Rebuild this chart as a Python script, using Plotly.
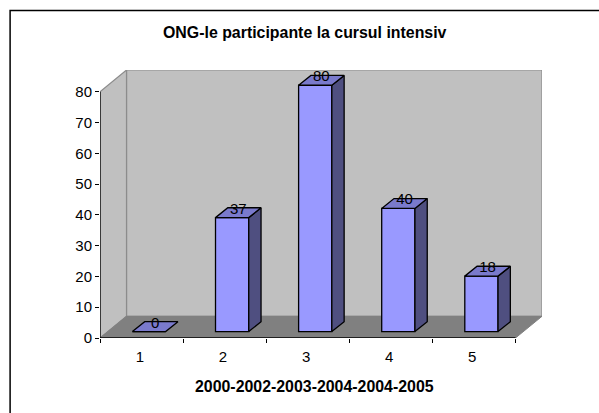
import plotly.graph_objects as go

categories = ["1", "2", "3", "4", "5"]
values = [0, 37, 80, 40, 18]
y_ticks = [0, 10, 20, 30, 40, 50, 60, 70, 80]
title_text = "ONG-le participante la cursul intensiv"
x_title = "2000-2002-2003-2004-2004-2005"

W, H = 599, 413
L, R, T, B = 99.5, 542.0, 70.0, 338.3     # pixel box incl. depth
N = len(categories)
YMAX = 80
DX = 0.319   # wall depth in category units
DY = 7.05    # wall depth in value units
BAR_W = 0.40
BAR_DX = 0.148
BAR_DY = 3.2
OFF_X = 0.09
OFF_Y = 2.1
FACE = "#9999FF"
TOPC = "#7A7ACC"
SIDE = "#4F4F80"
GREY = "#C0C0C0"
FLOOR = "#808080"
FONT = "Liberation Sans"

fig = go.Figure()

def path(xs, ys):
    return "M " + " L ".join(f"{x},{y}" for x, y in zip(xs, ys)) + " Z"

def wall(xs, ys, fill, line, width=1.0):
    fig.add_shape(type="path", xref="x", yref="y", path=path(xs, ys), fillcolor=fill,
                  line=dict(color=line, width=width), layer="below")

def poly(xs, ys, fill, line, width=1.0):
    fig.add_trace(go.Scatter(x=xs + xs[:1], y=ys + ys[:1], mode="lines", fill="toself",
                             fillcolor=fill, line=dict(color=line, width=width),
                             hoverinfo="skip", showlegend=False, cliponaxis=False))

# walls and floor
wall([DX, N + DX, N + DX, DX], [DY, DY, YMAX + DY, YMAX + DY], GREY, "#8C8C8C", 1.2)
wall([0, DX, DX, 0], [0, DY, YMAX + DY, YMAX], GREY, "#8C8C8C", 1.2)
wall([0, N, N + DX, DX], [0, 0, DY, DY], FLOOR, "#808080", 1.0)

# front faces
centers = [i + 0.5 + OFF_X for i in range(N)]
fig.add_trace(go.Bar(x=centers, y=values, base=OFF_Y, width=BAR_W,
                     marker=dict(color=FACE, line=dict(color="black", width=1.3)),
                     hoverinfo="skip", showlegend=False))

# side and top faces
for c, v in zip(centers, values):
    xl, xr = c - BAR_W / 2, c + BAR_W / 2
    top = v + OFF_Y
    if v > 0:
        poly([xr, xr + BAR_DX, xr + BAR_DX, xr], [OFF_Y, OFF_Y + BAR_DY, top + BAR_DY, top], SIDE, "black", 1.3)
    poly([xl, xr, xr + BAR_DX, xl + BAR_DX], [top, top, top + BAR_DY, top + BAR_DY], TOPC, "black", 1.3)

# axis lines stop at the top tick and the last category
fig.add_trace(go.Scatter(x=[0, 0], y=[0, YMAX], mode="lines", line=dict(color="black", width=1.3),
                         hoverinfo="skip", showlegend=False, cliponaxis=False))
fig.add_trace(go.Scatter(x=[0, N], y=[0, 0], mode="lines", line=dict(color="black", width=1.3),
                         hoverinfo="skip", showlegend=False, cliponaxis=False))

# value labels
fig.add_trace(go.Scatter(x=[c + BAR_DX / 2 for c in centers], y=[v + OFF_Y + 2.5 for v in values],
                         mode="text", text=[str(v) for v in values], textposition="middle center",
                         textfont=dict(family=FONT, size=15, color="black"),
                         hoverinfo="skip", showlegend=False, cliponaxis=False))

def px(x):
    return (x - L) / (R - L)
def py(y):
    return (B - y) / (B - T)

# the chart frame runs off the right and bottom of the picture
fig.add_shape(type="rect", xref="paper", yref="paper", x0=px(9.5), x1=px(640), y0=py(10.5), y1=py(450),
              line=dict(color="black", width=1.5), fillcolor="rgba(0,0,0,0)", layer="above")
fig.add_annotation(xref="paper", yref="paper", x=px(304.7), y=py(32), text=f"<b>{title_text}</b>", showarrow=False,
                   font=dict(family=FONT, size=15.9, color="black"), xanchor="center", yanchor="middle")
fig.add_annotation(xref="paper", yref="paper", x=px(314.5), y=py(387), text=f"<b>{x_title}</b>", showarrow=False,
                   font=dict(family=FONT, size=15.9, color="black"), xanchor="center", yanchor="middle")

fig.update_layout(
    width=W, height=H, autosize=False,
    margin=dict(l=L, r=W - R, t=T, b=H - B, pad=0),
    paper_bgcolor="white", plot_bgcolor="white", showlegend=False,
    xaxis=dict(range=[0, N + DX], tickmode="array", tickvals=[i + 0.48 for i in range(N)], ticktext=categories,
               ticks="", showgrid=False, zeroline=False, showline=False,
               tickfont=dict(family=FONT, size=15, color="black"), ticklabelstandoff=8,
               minor=dict(tickmode="array", tickvals=list(range(N + 1)), ticks="outside", ticklen=4, tickwidth=1.2, tickcolor="black", showgrid=False)),
    yaxis=dict(range=[0, YMAX + DY], tickmode="array", tickvals=y_ticks, ticks="outside", ticklen=4, tickwidth=1.2,
               tickcolor="black", showgrid=False, zeroline=False, showline=False,
               tickfont=dict(family=FONT, size=15, color="black")),
)
fig.write_html("out.html", post_script="document.body.style.margin='0';", config={"displayModeBar": False})
